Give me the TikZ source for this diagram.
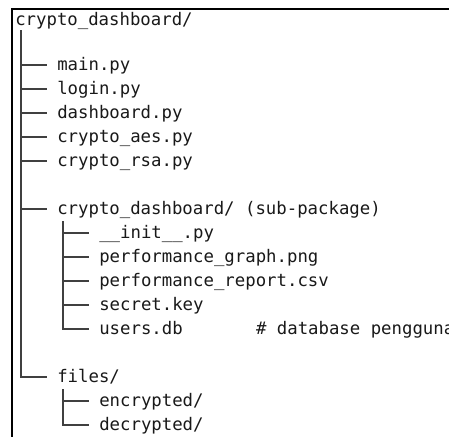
\documentclass[tikz,border=0pt]{standalone}
\usepackage{fontspec}
\setmonofont{DejaVu Sans Mono}
\begin{document}
\begin{tikzpicture}[x=0.75pt,y=-0.75pt,
  lbl/.style={anchor=west,inner sep=0pt,text height=8.25pt,text depth=0pt,
    font=\ttfamily\fontsize{13pt}{15pt}\selectfont,text=black!90},
  tree/.style={draw=black!75,line width=0.9pt},
  frameline/.style={draw=black,line width=1.5pt}]
\useasboundingbox (0,0) rectangle (449,437);
\clip (0,0) rectangle (449,437);
\fill[white] (0,0) rectangle (449,437);
% frame
\coordinate (fTR) at (449,9);
\coordinate (fTL) at (11.5,9);
\coordinate (fBL) at (11.5,437);
\draw[frameline] (fTR) -- (fTL) -- (fBL);
% labels
\node[lbl] (root) at (15,19.5) {crypto\_dashboard/};
\node[lbl] (main) at (57,65) {main.py};
\node[lbl] (login) at (57,89) {login.py};
\node[lbl] (dashboard) at (57,113) {dashboard.py};
\node[lbl] (aes) at (57,137) {crypto\_aes.py};
\node[lbl] (rsa) at (57,161) {crypto\_rsa.py};
\node[lbl] (sub) at (57,209) {crypto\_dashboard/ (sub-package)};
\node[lbl] (init) at (99,233) {\_\_init\_\_.py};
\node[lbl] (graph) at (99,257) {performance\_graph.png};
\node[lbl] (report) at (99,281) {performance\_report.csv};
\node[lbl] (secret) at (99,305) {secret.key};
\node[lbl] (users) at (99,329) {users.db};
\node[lbl] (cmt) at (255.75,329) {\# database pengguna};
\node[lbl] (files) at (57,377) {files/};
\node[lbl] (enc) at (99,401) {encrypted/};
\node[lbl] (dec) at (99,425) {decrypted/};
% trunk
\coordinate (t0) at (21,30);
\draw[tree] (t0) |- ([xshift=-7.5pt]files.west);
\foreach \n in {main,login,dashboard,aes,rsa,sub}
  \draw[tree] (t0 |- \n.west) -- ([xshift=-7.5pt]\n.west);
% sub-package
\coordinate (s0) at (63,221);
\draw[tree] (s0) |- ([xshift=-7.5pt]users.west);
\foreach \n in {init,graph,report,secret}
  \draw[tree] (s0 |- \n.west) -- ([xshift=-7.5pt]\n.west);
% files
\coordinate (f0) at (63,389);
\draw[tree] (f0) |- ([xshift=-7.5pt]dec.west);
\draw[tree] (f0 |- enc.west) -- ([xshift=-7.5pt]enc.west);
\end{tikzpicture}
\end{document}
